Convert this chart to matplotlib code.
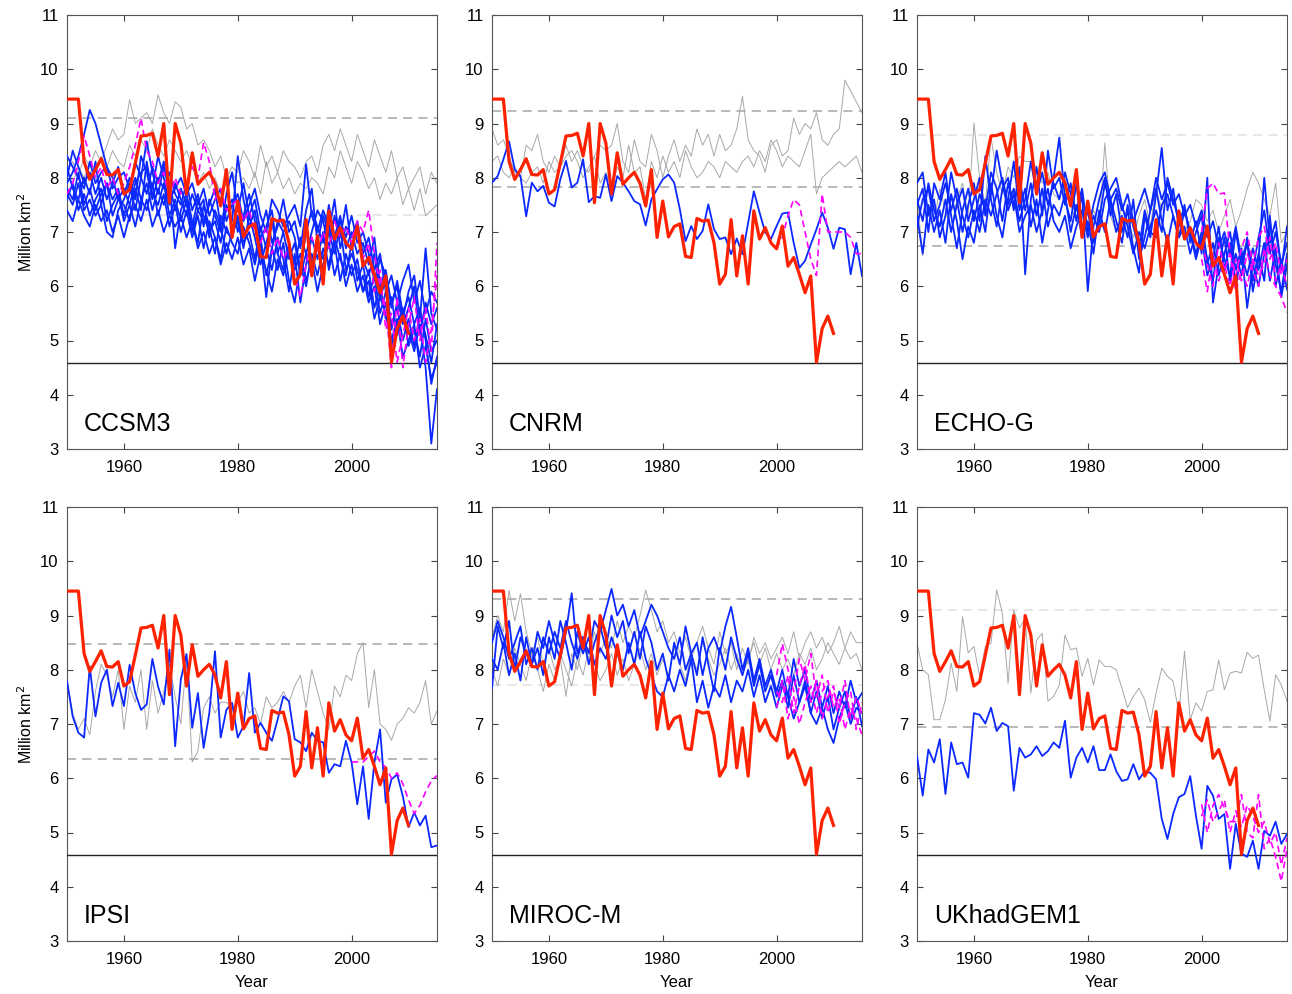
import matplotlib.pyplot as plt
import numpy as np

plt.rcParams['font.family'] = ['Liberation Sans', 'DejaVu Sans']

years = np.arange(1950, 2016)
obs_years = np.arange(1950, 2011)
proj_years = np.arange(2000, 2016)

# observed September extent (same in every panel)
obs = [9.45, 9.45, 9.45, 8.30, 7.97, 8.15, 8.35, 8.06, 8.05, 8.15,
       7.70, 7.78, 8.27, 8.77, 8.78, 8.82, 8.40, 9.00, 7.54, 9.00,
       8.64, 7.70, 8.46, 7.88, 8.00, 8.10, 7.90, 7.48, 8.15, 6.90,
       7.57, 6.91, 7.10, 7.15, 6.55, 6.53, 7.25, 7.20, 7.22, 6.80,
       6.04, 6.22, 7.23, 6.19, 6.93, 6.04, 7.39, 6.87, 7.08, 6.80,
       6.69, 7.11, 6.37, 6.53, 6.22, 5.88, 6.19, 4.60, 5.22, 5.45,
       5.13]
obs_2007 = 4.59

### CCSM3 ###
ccsm3_blue = [
    [7.9, 8.1, 8.4, 8.8, 9.25, 9.0, 8.6, 8.2, 8.0, 7.6,
     7.8, 7.5, 7.9, 8.1, 8.2, 7.8, 8.4, 8.0, 7.5, 7.9,
     7.6, 7.3, 7.7, 7.4, 7.2, 7.5, 7.8, 7.1, 7.4, 7.6,
     7.0, 7.3, 7.7, 7.2, 6.9, 7.1, 7.4, 6.6, 7.0, 7.2,
     6.9, 6.3, 7.0, 7.4, 7.1, 6.8, 7.5, 6.9, 7.3, 6.7,
     7.0, 6.6, 6.8, 6.4, 6.9, 6.0, 6.3, 5.6, 6.1, 5.5,
     5.8, 5.3, 5.6, 5.0, 4.2, 4.7],
    [7.7, 7.5, 7.9, 7.4, 7.6, 7.3, 7.5, 7.0, 6.9, 7.4,
     7.6, 7.9, 7.4, 8.0, 8.67, 8.1, 7.7, 8.2, 7.9, 7.4,
     7.8, 7.5, 7.1, 7.6, 7.3, 7.0, 7.2, 6.8, 7.5, 7.2,
     8.4, 7.6, 7.1, 7.4, 6.8, 5.8, 6.7, 7.2, 7.0, 6.5,
     6.8, 6.2, 6.6, 7.0, 7.4, 7.2, 6.7, 7.3, 6.9, 7.5,
     6.7, 7.1, 6.5, 6.2, 6.6, 5.8, 6.1, 5.2, 5.7, 5.4,
     5.9, 6.2, 5.4, 6.7, 5.5, 5.2],
    [8.2, 7.8, 7.6, 8.0, 7.7, 8.3, 7.5, 7.9, 7.6, 7.8,
     7.3, 7.7, 8.0, 7.6, 7.9, 7.4, 7.8, 7.5, 7.9, 6.7,
     7.4, 7.7, 7.2, 6.8, 7.5, 7.1, 6.6, 7.3, 7.0, 6.9,
     7.3, 6.8, 7.0, 6.5, 7.1, 6.7, 6.3, 6.9, 6.5, 5.9,
     6.6, 5.7, 6.4, 6.9, 6.5, 7.0, 6.3, 6.8, 6.1, 6.6,
     6.2, 6.5, 5.9, 6.3, 5.6, 6.0, 5.4, 5.8, 5.1, 5.5,
     5.2, 4.8, 5.3, 4.5, 3.1, 4.1],
    [7.6, 7.9, 7.4, 7.7, 7.3, 7.6, 7.8, 7.2, 7.5, 7.7,
     7.2, 7.5, 7.1, 7.6, 7.4, 7.9, 7.3, 7.7, 7.1, 7.5,
     7.0, 7.4, 6.9, 7.3, 6.7, 7.2, 6.9, 6.5, 7.1, 6.8,
     6.6, 7.1, 6.8, 6.4, 6.9, 6.2, 6.7, 6.3, 6.8, 6.1,
     5.7, 6.4, 6.0, 6.6, 6.2, 6.7, 6.4, 6.9, 6.5, 6.2,
     6.8, 6.1, 6.4, 5.8, 6.2, 5.5, 5.9, 5.3, 5.6, 5.0,
     5.4, 4.9, 5.5, 5.1, 4.6, 5.3],
    [8.4, 8.2, 8.0, 7.8, 8.3, 7.9, 8.1, 8.2, 7.8, 8.0,
     8.1, 7.8, 8.3, 8.0, 7.7, 8.2, 7.9, 8.3, 7.6, 7.8,
     8.0, 7.7, 7.9, 7.5, 7.8, 7.3, 7.6, 7.8, 7.2, 7.5,
     7.7, 7.2, 7.5, 7.8, 7.3, 7.0, 7.6, 7.4, 7.1, 7.3,
     7.5, 7.1, 8.25, 7.3, 7.0, 7.4, 7.1, 6.8, 7.2, 6.9,
     7.3, 6.8, 7.0, 6.6, 6.1, 6.5, 6.2, 5.7, 6.0, 5.3,
     5.6, 6.0, 5.1, 5.7, 5.3, 5.6],
    [7.4, 7.2, 7.6, 7.3, 7.1, 7.5, 7.2, 7.4, 7.0, 7.3,
     6.9, 7.3, 7.5, 7.2, 7.6, 7.1, 7.4, 7.0, 7.3, 7.1,
     7.3, 6.9, 7.2, 6.7, 7.0, 6.6, 6.9, 6.4, 6.8, 6.5,
     6.9, 6.4, 6.7, 6.1, 6.6, 6.3, 5.9, 6.5, 6.2, 6.7,
     6.3, 6.6, 6.1, 6.5, 5.9, 6.4, 6.8, 6.2, 6.6, 6.0,
     6.4, 5.9, 6.2, 5.7, 6.0, 5.3, 5.7, 5.0, 5.4, 4.7,
     5.0, 5.3, 4.5, 4.9, 4.3, 4.6],
    [8.0, 8.5, 8.2, 7.9, 8.1, 7.7, 8.0, 7.6, 7.9, 8.2,
     7.7, 8.0, 7.6, 8.4, 8.1, 7.6, 8.0, 7.8, 8.1, 7.7,
     7.5, 7.9, 7.4, 7.7, 7.1, 7.6, 7.3, 7.0, 7.7, 8.1,
     7.4, 7.9, 7.3, 7.6, 7.0, 7.4, 6.8, 7.1, 7.6, 7.0,
     7.2, 6.7, 7.4, 7.8, 6.8, 7.3, 7.0, 7.6, 6.7, 7.1,
     6.9, 7.2, 6.6, 6.9, 6.3, 6.6, 5.9, 6.2, 5.7, 6.1,
     6.4, 5.7, 6.1, 5.5, 5.9, 5.7],
    [7.8, 7.6, 8.1, 7.5, 7.8, 7.4, 7.7, 7.9, 7.3, 7.6,
     7.5, 7.2, 7.8, 7.4, 8.3, 7.7, 7.5, 7.9, 7.3, 7.6,
     7.2, 7.6, 7.0, 7.4, 7.6, 6.9, 7.4, 7.1, 6.6, 7.0,
     7.2, 6.7, 7.3, 6.9, 6.4, 6.8, 7.2, 6.6, 6.3, 6.8,
     6.4, 6.9, 6.6, 6.2, 6.8, 6.5, 7.0, 6.6, 7.1, 6.3,
     6.6, 6.3, 5.9, 6.1, 5.4, 5.8, 5.5, 4.9, 5.3, 5.6,
     4.9, 5.2, 4.7, 5.4, 4.8, 5.0],
]
ccsm3_gray = [
    [8.1, 8.3, 8.0, 8.4, 8.2, 8.5, 8.3, 8.6, 8.9, 8.7,
     8.8, 9.44, 9.0, 9.1, 9.2, 9.0, 9.53, 9.2, 9.0, 9.4,
     9.3, 8.9, 9.0, 8.6, 8.7, 8.5, 8.2, 8.4, 8.0, 8.2,
     8.1, 8.5, 8.3, 8.0, 8.6, 8.2, 8.4, 8.1, 8.5, 8.3,
     8.2, 8.0, 8.3, 8.4, 8.1, 8.6, 8.8, 8.5, 8.9, 8.6,
     8.3, 8.8, 8.5, 8.2, 8.7, 8.4, 8.1, 8.5, 8.0, 8.2,
     7.8, 8.0, 8.2, 7.7, 8.1, 7.9],
    [8.0, 7.9, 8.2, 8.0, 8.3, 8.1, 8.4, 8.2, 8.5, 8.3,
     8.2, 8.6, 8.4, 8.7, 8.5, 8.9, 8.6, 8.4, 8.7, 8.5,
     8.3, 8.5, 8.2, 7.9, 8.1, 7.8, 8.0, 7.7, 7.9, 8.1,
     7.9, 8.0, 7.8, 8.1, 7.7, 8.3, 7.9, 8.1, 7.8, 8.0,
     7.7, 7.9, 7.8, 8.0, 7.9, 7.7, 8.2, 8.0, 8.5, 8.2,
     7.9, 8.3, 8.1, 7.8, 8.0, 7.6, 7.9, 7.7, 8.0, 7.5,
     7.8, 7.4, 7.8, 7.3, 7.4, 7.5],
]
ccsm3_pink = [
    [7.7, 7.9, 8.3, 8.77, 8.4, 8.0, 8.2, 7.8, 8.0, 7.7,
     7.9, 8.2, 8.6, 9.1, 8.5, 8.3, 7.9, 8.1, 7.6, 8.0,
     7.7, 7.9, 8.2, 8.0, 8.65, 8.3, 7.6, 7.8, 7.4, 7.5,
     7.6, 7.2, 7.4, 7.0, 6.8, 7.1, 6.6, 6.9, 6.5, 6.7,
     6.2, 5.8, 6.4, 6.9, 6.6, 7.0, 6.7, 7.2, 6.9, 7.1,
     6.8, 7.2, 7.0, 7.4, 6.6, 6.0, 5.6, 4.5, 5.8, 4.5,
     5.3, 5.8, 5.0, 5.6, 4.8, 6.8],
    [6.9, 7.1, 6.5, 6.8, 5.9, 6.3, 5.2, 5.5, 4.6, 5.1,
     5.6, 5.0, 5.4, 4.6, 5.2, 6.2],
]

### CNRM ###
cnrm_blue = [
    [7.91, 8.03, 8.34, 8.67, 8.15, 8.03, 7.29, 7.91, 7.75, 7.85,
     7.54, 7.47, 7.97, 8.31, 7.82, 7.91, 8.34, 7.55, 7.66, 7.63,
     8.06, 7.57, 8.03, 7.91, 7.75, 7.57, 7.51, 7.12, 7.60, 7.79,
     7.97, 8.06, 7.91, 7.42, 6.83, 7.11, 6.87, 7.02, 7.51, 7.05,
     6.87, 6.90, 6.59, 6.88, 6.59, 7.17, 7.75, 7.36, 6.99, 6.87,
     7.11, 7.34, 7.36, 6.80, 6.34, 6.47, 6.77, 7.05, 7.36, 7.08,
     6.69, 7.08, 7.05, 6.22, 6.80, 6.19],
]
cnrm_gray = [
    [8.9, 8.6, 8.7, 8.4, 8.1, 8.0, 8.6, 8.5, 8.8, 8.3,
     8.1, 8.4, 8.2, 8.6, 8.3, 8.5, 8.2, 8.1, 8.4, 8.6,
     8.5, 8.6, 9.0, 8.3, 8.1, 8.7, 8.3, 8.2, 8.8, 8.5,
     8.0, 8.4, 8.7, 8.3, 8.6, 8.4, 8.9, 8.6, 8.8, 8.4,
     8.8, 8.5, 8.6, 8.9, 9.5, 8.7, 8.5, 8.4, 8.1, 8.6,
     8.7, 8.4, 8.5, 9.1, 8.8, 9.0, 8.9, 9.2, 8.7, 8.6,
     8.8, 8.9, 9.8, 9.6, 9.4, 9.2],
    [8.3, 8.4, 8.1, 8.0, 8.2, 8.0, 7.9, 8.1, 8.2, 7.9,
     8.3, 8.1, 8.2, 8.4, 8.5, 8.3, 8.0, 8.2, 8.4, 7.9,
     8.1, 7.8, 8.2, 8.0, 8.6, 8.1, 8.2, 7.6, 8.3, 8.0,
     8.4, 8.1, 8.3, 8.0, 8.5, 8.2, 8.0, 8.1, 8.3, 8.2,
     8.0, 8.3, 8.2, 8.1, 8.3, 8.4, 8.2, 8.5, 8.3, 8.7,
     8.5, 8.2, 8.4, 8.3, 8.2, 8.5, 8.8, 7.7, 8.0, 8.1,
     8.2, 8.3, 8.2, 8.3, 8.4, 8.1],
]
cnrm_pink = [
    [6.7, 6.9, 7.3, 7.6, 7.5, 7.0, 6.5, 6.2, 7.7, 7.0,
     7.0, 7.0, 7.0, 6.9, 6.6, 6.6],
]

### ECHO-G ###
echo_blue = [
    [7.9, 8.1, 7.3, 7.6, 6.9, 7.3, 8.1, 7.6, 7.0, 7.5,
     7.9, 7.2, 8.4, 7.6, 7.1, 7.8, 8.0, 7.4, 8.2, 6.22,
     7.6, 8.2, 7.3, 8.5, 7.8, 8.0, 7.5, 7.9, 7.2, 7.7,
     5.91, 7.1, 7.6, 8.0, 7.3, 7.7, 7.0, 7.4, 6.7, 6.25,
     7.3, 6.9, 7.7, 8.55, 7.4, 7.8, 7.1, 7.5, 6.8, 7.2,
     6.6, 8.0, 5.7, 6.4, 6.9, 6.1, 6.6, 6.2, 6.9, 5.9,
     6.5, 8.0, 6.8, 7.2, 6.3, 7.1],
    [7.3, 6.6, 7.5, 7.0, 7.4, 6.8, 7.7, 7.2, 6.5, 7.1,
     6.8, 7.5, 7.0, 7.9, 7.3, 6.9, 7.6, 8.3, 7.4, 7.8,
     7.1, 7.6, 6.8, 7.4, 8.0, 8.74, 7.6, 7.2, 7.9, 7.0,
     7.4, 6.8, 7.2, 7.9, 7.5, 7.0, 7.3, 6.9, 7.6, 6.5,
     6.9, 7.4, 7.8, 7.2, 6.8, 7.3, 6.9, 7.1, 6.6, 7.0,
     7.3, 6.4, 6.8, 6.2, 6.6, 7.0, 6.3, 6.7, 5.6, 6.4,
     6.0, 6.6, 7.2, 6.4, 5.9, 6.6],
    [7.5, 7.8, 7.0, 7.9, 7.6, 8.1, 7.3, 6.7, 7.4, 7.8,
     7.2, 7.7, 7.4, 8.1, 7.8, 7.2, 7.9, 7.5, 8.0, 7.4,
     7.9, 7.3, 7.8, 7.1, 7.5, 7.3, 7.7, 7.0, 7.5, 6.9,
     7.2, 6.6, 7.4, 7.0, 7.6, 7.2, 6.8, 7.5, 7.1, 6.7,
     7.4, 7.0, 6.9, 7.5, 7.7, 7.3, 6.9, 7.4, 7.0, 6.6,
     7.0, 6.5, 6.1, 6.9, 6.5, 6.2, 7.0, 6.4, 6.8, 6.1,
     6.6, 6.1, 7.3, 6.0, 6.5, 5.94],
    [7.1, 7.6, 7.8, 7.2, 7.5, 7.9, 7.4, 7.8, 7.3, 6.9,
     7.4, 7.0, 7.6, 7.3, 7.7, 8.0, 7.5, 7.8, 7.2, 7.6,
     8.3, 7.7, 8.1, 7.5, 7.9, 7.6, 8.1, 7.7, 7.4, 7.8,
     7.0, 7.5, 7.9, 8.1, 7.6, 7.8, 7.4, 7.7, 7.2, 7.5,
     7.8, 7.4, 8.0, 7.6, 7.9, 7.5, 7.7, 7.3, 7.5, 7.1,
     7.4, 6.9, 7.2, 6.7, 7.0, 6.6, 7.1, 6.5, 6.8, 6.3,
     6.9, 7.4, 6.6, 7.0, 6.4, 6.8],
    [7.6, 7.2, 7.9, 7.4, 7.1, 7.6, 7.0, 7.5, 7.8, 7.2,
     7.6, 8.0, 7.3, 7.7, 8.5, 7.9, 7.4, 7.7, 7.0, 7.3,
     7.5, 7.0, 7.4, 7.8, 7.2, 7.0, 7.3, 6.7, 7.1, 7.4,
     6.9, 7.3, 7.0, 7.6, 7.8, 8.0, 7.5, 7.1, 6.6, 7.0,
     6.7, 7.1, 7.4, 7.0, 8.0, 7.6, 7.2, 7.4, 7.0, 6.5,
     6.9, 6.2, 6.5, 7.1, 6.3, 6.8, 6.0, 6.6, 6.2, 6.7,
     6.3, 6.8, 6.1, 6.7, 5.8, 6.4],
]
echo_gray = [
    [7.66, 6.56, 7.5, 7.2, 7.8, 7.4, 7.0, 7.6, 7.9, 7.3,
     9.01, 8.0, 7.5, 8.74, 8.1, 7.7, 8.2, 8.0, 8.4, 8.3,
     8.3, 8.2, 7.9, 8.1, 7.7, 7.6, 8.0, 7.5, 7.2, 7.8,
     7.0, 7.4, 7.1, 8.64, 7.3, 7.0, 7.5, 7.2, 6.9, 7.3,
     7.6, 7.1, 7.8, 7.4, 8.0, 7.6, 7.3, 7.0, 7.2, 7.6,
     7.5, 7.2, 7.4, 7.0, 7.3, 7.6, 7.1, 7.4, 7.8, 8.1,
     7.9, 7.6, 7.3, 7.9, 6.8, 7.0],
]
echo_pink = [
    [7.0, 7.8, 7.9, 7.7, 7.72, 6.6, 6.2, 6.7, 7.0, 6.4,
     6.9, 7.1, 6.5, 6.8, 6.2, 6.5],
    [6.5, 5.9, 6.6, 6.1, 6.4, 6.0, 6.5, 6.1, 6.6, 6.3,
     6.0, 6.7, 6.2, 6.0, 5.8, 5.52],
    [6.8, 6.4, 6.0, 6.8, 6.3, 6.6, 5.9, 6.3, 6.0, 6.5,
     6.2, 6.4, 6.9, 6.1, 6.4, 6.0],
]

### IPSL ###
ipsl_blue = [
    [7.79, 7.14, 6.84, 6.75, 8.06, 7.14, 7.76, 8.00, 7.33, 7.76,
     7.33, 8.09, 7.57, 7.26, 7.36, 8.20, 7.69, 7.36, 8.37, 6.59,
     7.82, 8.29, 6.93, 7.57, 6.56, 7.20, 8.34, 6.75, 7.26, 7.39,
     6.75, 6.96, 7.94, 6.84, 7.02, 6.84, 6.69, 7.08, 7.51, 7.42,
     6.72, 6.66, 6.50, 6.84, 6.69, 6.66, 6.10, 6.26, 6.22, 6.69,
     6.29, 5.52, 6.22, 5.25, 6.29, 6.90, 5.55, 5.98, 6.07, 5.67,
     5.10, 5.37, 5.13, 5.31, 4.73, 4.76],
]
ipsl_gray = [
    [7.8, 7.2, 6.9, 7.1, 6.8, 7.6, 8.1, 7.9, 7.5, 8.0,
     6.9, 7.7, 7.4, 8.0, 6.9, 7.8, 7.2, 7.6, 8.1, 7.5,
     7.0, 8.2, 6.3, 6.5, 7.3, 7.5, 7.2, 7.4, 7.4, 7.3,
     7.4, 7.6, 7.2, 7.3, 7.0, 7.5, 7.3, 7.4, 7.6, 7.4,
     7.7, 7.9, 7.3, 8.0, 7.6, 7.2, 6.9, 7.7, 7.5, 7.9,
     7.8, 8.3, 8.5, 7.3, 8.0, 7.0, 6.9, 6.7, 7.0, 7.1,
     7.3, 7.2, 7.4, 7.8, 7.0, 7.24],
]
ipsl_pink = [
    [6.3, 6.3, 6.3, 6.4, 6.5, 6.3, 6.2, 6.0, 6.1, 5.9,
     5.6, 5.35, 5.5, 5.75, 5.95, 6.05],
]

### MIROC-M ###
miroc_blue = [
    [7.66, 8.8, 8.4, 8.9, 8.0, 8.6, 8.3, 8.1, 8.7, 8.4,
     8.9, 8.5, 8.2, 8.7, 9.41, 8.3, 8.6, 8.1, 8.5, 8.8,
     8.4, 9.0, 8.6, 8.9, 8.3, 8.7, 8.2, 8.8, 8.5, 8.0,
     8.3, 7.8, 8.5, 8.1, 8.8, 8.3, 7.9, 8.6, 8.1, 7.6,
     8.4, 8.0, 8.6, 8.2, 7.9, 8.3, 7.7, 8.1, 7.6, 7.9,
     7.5, 7.8, 7.3, 7.9, 7.4, 7.7, 7.2, 7.6, 7.1, 7.5,
     6.9, 7.3, 7.6, 7.1, 7.5, 6.96],
    [8.5, 8.9, 8.6, 8.2, 8.5, 8.8, 8.1, 8.4, 8.0, 8.6,
     8.3, 8.7, 8.4, 8.9, 8.5, 8.2, 8.6, 8.3, 8.9, 8.7,
     9.1, 9.49, 9.0, 9.2, 8.8, 9.1, 8.6, 8.9, 9.2, 9.0,
     8.7, 8.4, 8.2, 8.6, 8.0, 8.3, 8.5, 7.9, 8.4, 8.6,
     8.3, 8.8, 9.16, 8.6, 8.0, 8.4, 7.8, 8.2, 7.7, 8.0,
     7.6, 8.0, 7.5, 8.2, 7.7, 8.0, 7.4, 7.8, 7.3, 7.7,
     7.2, 7.6, 7.3, 7.8, 7.4, 7.57],
    [8.2, 8.0, 8.5, 7.9, 8.3, 7.8, 8.6, 8.1, 8.4, 7.9,
     8.6, 8.2, 8.9, 8.5, 8.0, 8.7, 8.3, 8.6, 8.1, 8.4,
     8.2, 8.6, 8.3, 8.0, 8.5, 8.1, 8.7, 8.2, 7.9, 7.6,
     7.5, 7.9, 7.6, 8.0, 7.7, 8.2, 7.4, 7.8, 7.3, 7.7,
     7.5, 7.9, 7.4, 7.8, 7.6, 8.0, 7.5, 7.9, 7.4, 7.7,
     7.3, 7.7, 7.5, 7.1, 7.4, 7.8, 7.2, 7.0, 7.3, 6.9,
     6.65, 7.1, 7.4, 7.0, 7.3, 7.2],
]
miroc_gray = [
    [8.6, 9.0, 8.7, 9.46, 8.9, 9.4, 8.7, 8.3, 8.6, 8.1,
     8.4, 8.0, 8.2, 7.51, 8.3, 8.0, 8.5, 8.2, 8.7, 8.3,
     8.6, 8.4, 8.9, 8.5, 8.8, 8.6, 9.0, 9.47, 9.1, 8.7,
     8.9, 8.5, 8.7, 8.3, 8.6, 8.2, 8.5, 8.8, 8.4, 8.1,
     8.7, 8.3, 8.5, 8.0, 8.4, 8.1, 8.6, 8.3, 8.5, 8.2,
     8.4, 8.6, 8.3, 8.7, 8.2, 8.5, 8.7, 8.4, 8.6, 8.3,
     8.5, 8.8, 8.4, 8.7, 8.5, 8.5],
    [8.0, 7.7, 8.2, 7.9, 8.4, 8.1, 7.8, 8.3, 8.0, 7.6,
     8.1, 7.8, 8.3, 8.0, 7.7, 8.2, 7.9, 8.4, 8.1, 7.8,
     8.0, 8.3, 7.9, 8.2, 7.8, 8.1, 8.4, 8.0, 8.3, 7.9,
     8.2, 7.9, 8.4, 8.1, 7.8, 8.3, 8.0, 8.5, 8.2, 7.9,
     8.1, 8.4, 8.0, 8.3, 7.9, 8.2, 8.5, 8.1, 8.4, 8.0,
     8.3, 8.0, 8.2, 7.9, 8.3, 8.1, 8.4, 8.0, 8.2, 8.5,
     8.3, 8.1, 8.4, 8.2, 8.3, 8.0],
]
miroc_pink = [
    [7.9, 8.48, 8.0, 7.6, 8.2, 7.8, 8.3, 7.5, 7.9, 7.2,
     7.6, 7.3, 7.8, 7.1, 7.5, 7.2],
    [7.6, 7.4, 7.9, 7.2, 7.7, 8.1, 7.4, 7.8, 7.1, 7.5,
     7.7, 7.0, 7.4, 7.6, 6.9, 7.4],
    [7.3, 7.8, 7.1, 7.5, 7.0, 7.4, 7.7, 7.2, 7.6, 7.8,
     7.3, 7.5, 6.9, 7.3, 7.1, 6.8],
]

### UKhadGEM1 ###
ukhad_blue = [
    [6.41, 5.68, 6.53, 6.29, 6.72, 5.71, 6.66, 6.26, 6.29, 6.01,
     7.20, 7.17, 7.01, 7.30, 6.87, 7.02, 6.96, 5.77, 6.56, 6.38,
     6.44, 6.59, 6.41, 6.50, 6.66, 6.56, 7.06, 6.01, 6.38, 6.56,
     6.29, 6.59, 6.15, 6.15, 6.44, 6.13, 5.95, 5.98, 6.26, 5.98,
     6.13, 6.10, 5.98, 5.25, 4.88, 5.34, 5.65, 5.71, 6.04, 5.31,
     4.70, 5.86, 5.68, 5.25, 5.34, 4.33, 5.16, 4.61, 4.55, 4.85,
     4.33, 5.03, 4.94, 5.20, 4.79, 4.97],
]
ukhad_gray = [
    [8.49, 8.00, 7.91, 7.08, 7.08, 7.45, 8.12, 7.60, 8.98, 8.31,
     8.43, 7.88, 8.43, 8.49, 9.47, 9.04, 7.75, 9.10, 8.77, 8.95,
     7.57, 8.55, 8.67, 7.42, 7.51, 7.72, 8.64, 8.37, 8.40, 7.88,
     8.21, 7.72, 8.18, 8.06, 8.06, 8.00, 7.66, 7.30, 7.51, 7.66,
     7.45, 7.03, 7.57, 8.03, 7.88, 7.79, 7.20, 8.34, 7.08, 7.39,
     7.24, 7.60, 7.63, 8.18, 7.63, 7.94, 7.97, 7.94, 8.32, 8.21,
     8.27, 7.63, 7.05, 7.91, 7.72, 7.42],
]
ukhad_pink = [
    [5.52, 5.0, 5.5, 5.7, 5.45, 5.2, 5.2, 5.7, 5.0, 4.9,
     5.7, 4.7, 4.9, 4.55, 4.1, 4.7],
    [5.3, 5.6, 5.2, 5.4, 5.6, 5.0, 5.4, 5.1, 5.5, 5.3,
     5.0, 5.2, 4.8, 5.0, 4.4, 4.9],
]

names = ['CCSM3', 'CNRM', 'ECHO-G', 'IPSI', 'MIROC-M', 'UKhadGEM1']
blues = [ccsm3_blue, cnrm_blue, echo_blue, ipsl_blue, miroc_blue, ukhad_blue]
grays = [ccsm3_gray, cnrm_gray, echo_gray, ipsl_gray, miroc_gray, ukhad_gray]
pinks = [ccsm3_pink, cnrm_pink, echo_pink, ipsl_pink, miroc_pink, ukhad_pink]
# control-run band (upper, lower) and whether each dashed line is faint
band_hi = [9.10, 9.23, 8.79, 8.47, 9.30, 9.10]
band_lo = [7.31, 7.83, 6.75, 6.36, 7.71, 6.94]
hi_faint = [False, False, True, False, False, True]
lo_faint = [True, False, False, False, True, False]

W, H = 1292, 994
fig = plt.figure(figsize=(W/100, H/100), dpi=100)
lefts = [67, 492, 917]
tops = [15, 507]
pw, ph = 370, 434

for i in range(6):
    r, c = divmod(i, 3)
    ax = fig.add_axes([lefts[c]/W, 1 - (tops[r] + ph)/H, pw/W, ph/H])

    dark = '#a6a6a6'
    faint = '#e0e0e0'
    ax.axhline(band_hi[i], color=faint if hi_faint[i] else dark, lw=1.1,
               ls=(0, (6, 4)), zorder=1)
    ax.axhline(band_lo[i], color=faint if lo_faint[i] else dark, lw=1.1,
               ls=(0, (6, 4)), zorder=1)

    for g in grays[i]:
        assert len(g) == len(years)
        ax.plot(years, g, color='#a8a8a8', lw=0.7, zorder=2)
    ax.axhline(obs_2007, color='#222222', lw=1.0, zorder=3)
    for b in blues[i]:
        assert len(b) == len(years)
        ax.plot(years, b, color='#0a28ff', lw=1.3, zorder=4)
    for m in pinks[i]:
        x = years if len(m) == len(years) else proj_years
        assert len(m) == len(x)
        ax.plot(x, m, color='#ff00ff', lw=1.2, ls=(0, (4, 2.5)), zorder=5)
    ax.plot(obs_years, obs, color='#ff2200', lw=2.3, zorder=6)

    ax.set_xlim(1950, 2015)
    ax.set_ylim(3, 11)
    ax.set_xticks([1960, 1980, 2000])
    ax.set_yticks(range(3, 12))
    ax.tick_params(direction='in', top=True, right=True, length=4,
                   width=0.8, color='#444444', labelsize=12)
    ax.tick_params(axis='x', pad=8)
    ax.tick_params(axis='y', pad=6)
    for s in ax.spines.values():
        s.set_color('#555555')
        s.set_linewidth(0.8)

    ax.text(0.046, 0.03, names[i], transform=ax.transAxes, fontsize=18,
            ha='left', va='bottom', zorder=7)

    if c == 0:
        ax.set_ylabel('Million km$^2$', fontsize=11.5)
        ax.yaxis.set_label_coords(-0.087, 0.5)
    if r == 1:
        ax.set_xlabel('Year', fontsize=12)
        ax.xaxis.set_label_coords(0.5, -0.078)

plt.savefig('out.png', dpi=100)
